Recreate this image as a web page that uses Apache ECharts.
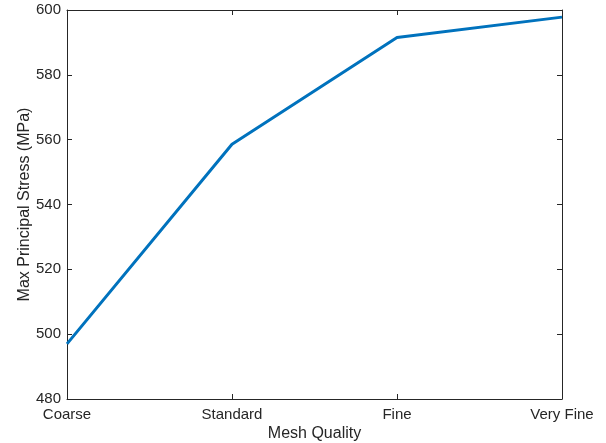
<!DOCTYPE html>
<html>
<head>
<meta charset="utf-8">
<script src="https://cdn.jsdelivr.net/npm/echarts@6/dist/echarts.min.js"></script>
<style>
  html, body { margin: 0; padding: 0; background: #fff; }
  #chart { width: 606px; height: 443px; }
</style>
</head>
<body>
<div id="chart"></div>
<script>
// data
const meshLevels = ['Coarse', 'Standard', 'Fine', 'Very Fine'];
const maxStress = [497.0, 558.6, 591.5, 597.8];
const yTicks = [480, 500, 520, 540, 560, 580, 600];

const axisColor = '#262626';
const fontFamily = 'Liberation Sans, Arial, sans-serif';

const chart = echarts.init(document.getElementById('chart'), null, { renderer: 'canvas' });

const baseX = {
    type: 'category',
    data: meshLevels,
    boundaryGap: false,
    axisLine: { show: true, lineStyle: { color: axisColor, width: 1 } },
    axisTick: { show: true, inside: true, length: 5, alignWithLabel: true, lineStyle: { color: axisColor } },
    splitLine: { show: false }
};
const baseY = {
    type: 'value',
    min: yTicks[0],
    max: yTicks[yTicks.length - 1],
    interval: 20,
    axisLine: { show: true, lineStyle: { color: axisColor, width: 1 } },
    axisTick: { show: true, inside: true, length: 5, lineStyle: { color: axisColor } },
    splitLine: { show: false }
};

chart.setOption({
    animation: false,
    grid: { left: 67, right: 44, top: 10, bottom: 44, containLabel: false, outerBoundsMode: 'none' },
    xAxis: [
        Object.assign({}, baseX, {
            position: 'bottom',
            name: 'Mesh Quality',
            nameLocation: 'middle',
            nameGap: 27,
            nameMoveOverlap: false,
            nameTextStyle: { color: axisColor, fontSize: 16, fontFamily: fontFamily },
            axisLabel: { color: axisColor, fontSize: 15, fontFamily: fontFamily, margin: 8, showMinLabel: true, showMaxLabel: true }
        }),
        Object.assign({}, baseX, {
            position: 'top',
            axisLabel: { show: false }
        })
    ],
    yAxis: [
        Object.assign({}, baseY, {
            position: 'left',
            name: 'Max Principal Stress (MPa)',
            nameLocation: 'middle',
            nameGap: 34,
            nameMoveOverlap: false,
            nameTextStyle: { color: axisColor, fontSize: 16, fontFamily: fontFamily },
            axisLabel: { color: axisColor, fontSize: 15, fontFamily: fontFamily, margin: 6 }
        }),
        Object.assign({}, baseY, {
            position: 'right',
            axisLabel: { show: false }
        })
    ],
    series: [{
        type: 'line',
        data: maxStress,
        xAxisIndex: 0,
        yAxisIndex: 0,
        showSymbol: false,
        symbol: 'none',
        lineStyle: { color: '#0072BD', width: 3 }
    }]
});
</script>
</body>
</html>
